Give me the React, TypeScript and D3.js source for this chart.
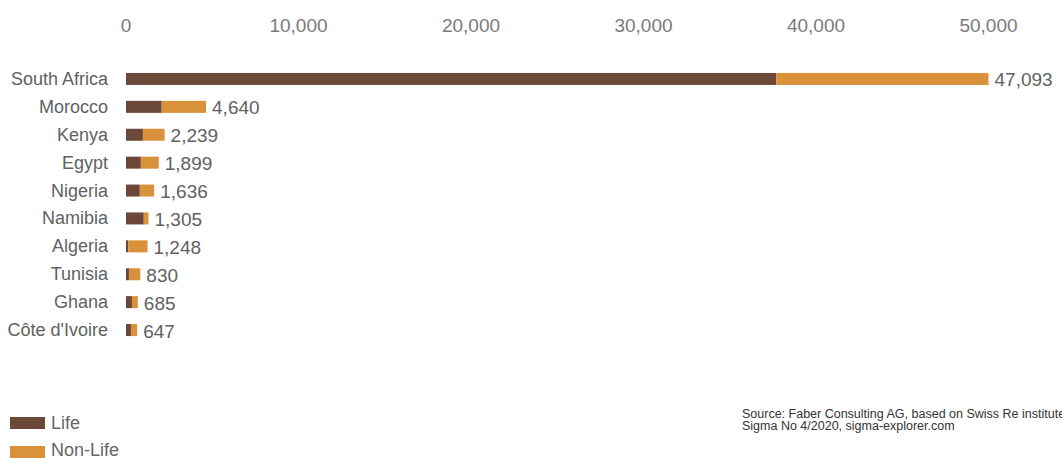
import React from "react";
import * as d3 from "d3";

const countries = ["South Africa", "Morocco", "Kenya", "Egypt", "Nigeria", "Namibia", "Algeria", "Tunisia", "Ghana", "Côte d'Ivoire"];
const lifeValues = [37700, 2070, 980, 860, 800, 1030, 130, 170, 345, 287];
const nonLifeValues = [12300, 2570, 1259, 1039, 836, 275, 1118, 660, 340, 360];
const totalLabels = [47093, 4640, 2239, 1899, 1636, 1305, 1248, 830, 685, 647];
const tickValues = [0, 10000, 20000, 30000, 40000, 50000];
const seriesNames = ["Life", "Non-Life"];
const sourceLines = ["Source: Faber Consulting AG, based on Swiss Re institute", "Sigma No 4/2020, sigma-explorer.com"];

const W = 1062;
const H = 458;
const colors = ["#6B4838", "#D9923A"];
const FONT = "'Liberation Sans', Arial, sans-serif";

export default function App() {
  const x = d3.scaleLinear().domain([0, 50000]).range([126, 988.5]);
  const y = d3.scaleBand<string>().domain(countries).range([65, 344]).paddingInner(0.57).paddingOuter(0.285);
  const fmt = d3.format(",");
  const bh = 12;

  return (
    <svg width={W} height={H} style={{ position: "absolute", left: 0, top: 0, background: "#fff" }}>
      {tickValues.map((t) => (
        <text key={t} x={x(t)} y={25} textAnchor="middle" dominantBaseline="central" fontFamily={FONT} fontSize={19} fill="#7a7a7a">
          {fmt(t)}
        </text>
      ))}
      {countries.map((c, i) => {
        const cy = (y(c) as number) + y.bandwidth() / 2;
        const top = cy - bh / 2;
        const l = lifeValues[i];
        const n = nonLifeValues[i];
        return (
          <g key={c}>
            <text x={108} y={cy} textAnchor="end" dominantBaseline="central" fontFamily={FONT} fontSize={18} fill="#616161">
              {c}
            </text>
            <rect x={x(0)} y={top} width={x(l) - x(0)} height={bh} fill={colors[0]} />
            <rect x={x(l)} y={top} width={x(l + n) - x(l)} height={bh} fill={colors[1]} />
            <text x={x(l + n) + 6} y={cy + 1} dominantBaseline="central" fontFamily={FONT} fontSize={19} fill="#616161">
              {fmt(totalLabels[i])}
            </text>
          </g>
        );
      })}
      {seriesNames.map((s, i) => (
        <g key={s}>
          <rect x={10} y={417 + i * 29} width={35} height={12} fill={colors[i]} />
          <text x={51} y={423 + i * 27} dominantBaseline="central" fontFamily={FONT} fontSize={18} fill="#666">
            {s}
          </text>
        </g>
      ))}
      {sourceLines.map((s, i) => (
        <text key={i} x={742} y={414 + i * 12} dominantBaseline="central" fontFamily={FONT} fontSize={12.5} fill="#333">
          {s}
        </text>
      ))}
    </svg>
  );
}
